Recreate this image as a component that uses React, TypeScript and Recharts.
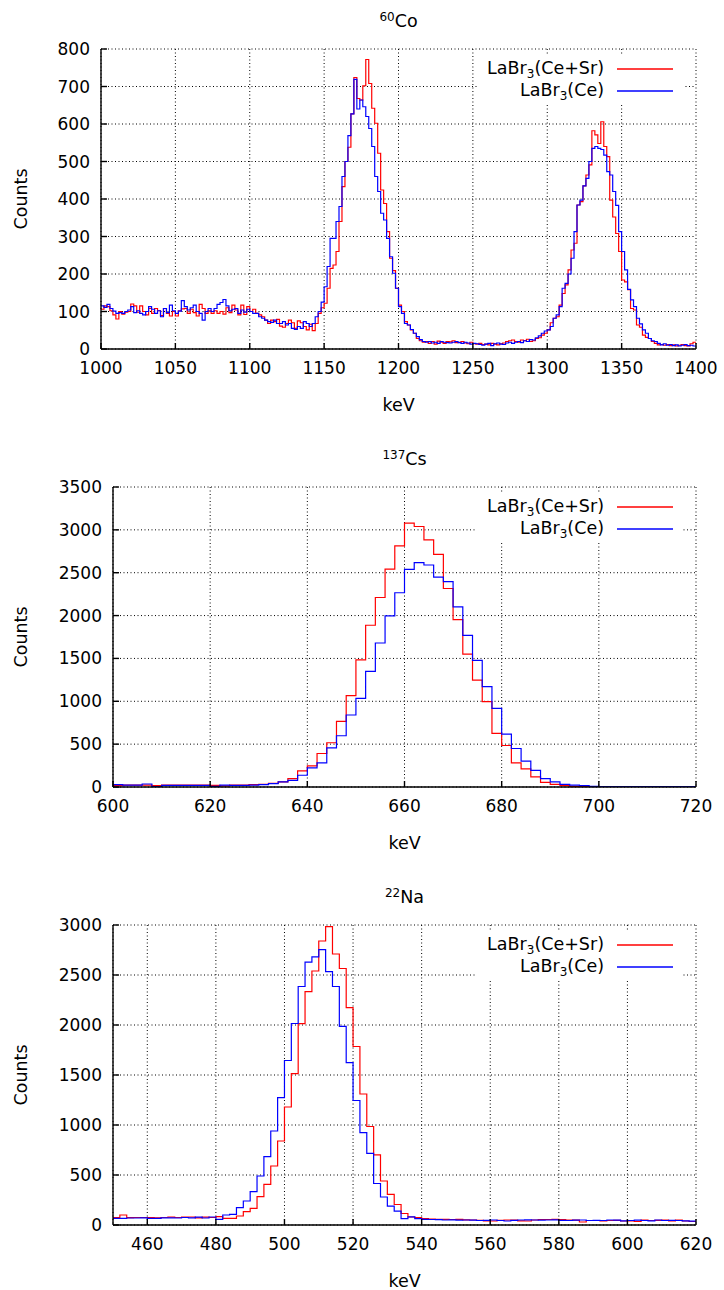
import React from "react";
import { LineChart, Line, XAxis, YAxis, CartesianGrid } from "recharts";

const FONT = "'DejaVu Sans', sans-serif";
const BIN = 2; // keV per bin, all three spectra

// 60Co, bins from 1000 keV
const coStart = 1000;
const coRed = [
  106, 115, 113, 102, 91, 80, 100, 93, 98, 100,
  120, 115, 98, 115, 100, 91, 108, 95, 108, 102,
  89, 108, 95, 88, 100, 88, 102, 107, 108, 95,
  106, 97, 88, 119, 108, 95, 102, 95, 102, 95,
  100, 93, 110, 97, 117, 104, 91, 117, 92, 113,
  100, 106, 95, 91, 86, 77, 68, 77, 73, 79,
  61, 58, 68, 77, 70, 55, 75, 70, 60, 51,
  66, 49, 68, 95, 110, 122, 162, 215, 224, 260,
  340, 433, 500, 538, 627, 724, 668, 664, 702, 772,
  708, 642, 602, 522, 424, 388, 313, 242, 209, 162,
  117, 100, 73, 64, 51, 42, 28, 22, 18, 20,
  15, 20, 13, 21, 18, 15, 20, 19, 22, 17,
  18, 20, 16, 14, 18, 14, 13, 15, 12, 13,
  11, 15, 13, 11, 14, 16, 20, 22, 24, 20,
  18, 24, 22, 26, 20, 22, 28, 30, 37, 42,
  51, 70, 82, 86, 117, 148, 171, 211, 264, 282,
  384, 393, 435, 464, 491, 582, 571, 548, 606, 540,
  513, 397, 352, 308, 260, 184, 179, 158, 108, 104,
  64, 58, 37, 31, 28, 20, 15, 11, 12, 10,
  12, 9, 11, 8, 10, 12, 9, 8, 14, 18,
];
const coBlue = [
  115, 111, 119, 108, 101, 95, 97, 95, 100, 104,
  113, 97, 102, 95, 91, 100, 113, 106, 95, 102,
  86, 108, 97, 117, 102, 95, 101, 129, 113, 104,
  110, 117, 100, 95, 77, 100, 108, 100, 108, 119,
  124, 132, 115, 102, 106, 108, 95, 104, 98, 106,
  100, 95, 95, 86, 82, 77, 73, 71, 77, 68,
  68, 73, 64, 68, 55, 52, 60, 55, 73, 68,
  60, 68, 86, 100, 125, 166, 220, 295, 295, 340,
  380, 460, 500, 569, 627, 719, 640, 664, 646, 620,
  588, 540, 460, 420, 362, 344, 295, 246, 202, 162,
  113, 95, 68, 64, 52, 42, 33, 25, 20, 18,
  20, 16, 18, 15, 20, 18, 17, 16, 18, 20,
  17, 15, 18, 16, 13, 15, 14, 12, 10, 13,
  15, 9, 14, 16, 13, 12, 16, 18, 15, 18,
  20, 17, 22, 20, 25, 24, 30, 35, 42, 48,
  51, 60, 82, 91, 113, 162, 175, 200, 242, 313,
  384, 397, 435, 455, 500, 535, 540, 535, 532, 517,
  473, 464, 420, 383, 313, 260, 211, 159, 131, 113,
  82, 67, 51, 42, 28, 22, 20, 15, 11, 14,
  10, 12, 9, 11, 8, 10, 12, 9, 10, 8,
];
const coXTicks = [1000, 1050, 1100, 1150, 1200, 1250, 1300, 1350, 1400];
const coYTicks = [0, 100, 200, 300, 400, 500, 600, 700, 800];

// 137Cs, bins from 600 keV
const csStart = 600;
const csRed = [
  16, 23, 23, 23, 16, 23, 23, 23, 23, 23,
  20, 12, 23, 23, 27, 31, 43, 59, 98, 188,
  246, 391, 516, 766, 1066, 1484, 1887, 2211, 2543, 2812,
  3078, 3039, 2883, 2715, 2316, 1953, 1551, 1246, 996, 625,
  484, 281, 211, 117, 55, 31, 16, 8, 8, 4,
  4, 4, 4, 4, 4, 4, 4, 4, 4, 4,
];
const csBlue = [
  27, 23, 23, 35, 4, 20, 20, 20, 20, 20,
  8, 23, 20, 20, 23, 27, 39, 59, 78, 137,
  223, 281, 457, 598, 840, 1035, 1348, 1680, 1996, 2266,
  2539, 2617, 2590, 2449, 2395, 2102, 1770, 1477, 1172, 918,
  617, 449, 301, 195, 98, 59, 31, 23, 16, 8,
  4, 4, 4, 4, 4, 4, 4, 4, 4, 4,
];
const csXTicks = [600, 620, 640, 660, 680, 700, 720];
const csYTicks = [0, 500, 1000, 1500, 2000, 2500, 3000, 3500];

// 22Na, bins from 450 keV
const naStart = 450;
const naRed = [
  73, 100, 73, 75, 75, 75, 72, 75, 78, 75,
  78, 80, 72, 78, 75, 83, 67, 67, 90, 133,
  167, 283, 407, 590, 840, 1180, 1513, 2013, 2333, 2540,
  2840, 2983, 2710, 2565, 2173, 1785, 1310, 985, 702, 440,
  307, 205, 115, 80, 73, 63, 60, 57, 57, 55,
  57, 52, 50, 47, 40, 40, 47, 50, 50, 42,
  40, 50, 55, 55, 57, 55, 50, 48, 30, 45,
  45, 40, 45, 47, 40, 42, 35, 50, 45, 47,
  50, 42, 50, 40, 35,
];
const naBlue = [
  67, 67, 70, 70, 72, 67, 67, 72, 72, 70,
  75, 72, 78, 70, 80, 57, 100, 107, 173, 240,
  333, 490, 683, 940, 1273, 1645, 2015, 2385, 2628, 2682,
  2753, 2533, 2385, 1987, 1623, 1245, 923, 717, 415, 280,
  188, 138, 63, 82, 63, 57, 55, 53, 50, 52,
  48, 50, 48, 45, 47, 50, 45, 40, 47, 50,
  52, 50, 48, 50, 52, 47, 45, 48, 50, 45,
  47, 45, 50, 48, 42, 45, 48, 45, 42, 50,
  45, 47, 45, 42, 38,
];
const naXTicks = [460, 480, 500, 520, 540, 560, 580, 600, 620];
const naYTicks = [0, 500, 1000, 1500, 2000, 2500, 3000];

type Row = { e: number; red: number; blue: number };

// one row per bin edge; the closing edge repeats the last bin so the step reaches the axis end
function toRows(start: number, red: number[], blue: number[]): Row[] {
  const rows = red.map((r, i) => ({ e: start + i * BIN, red: r, blue: blue[i] }));
  rows.push({ e: start + red.length * BIN, red: red[red.length - 1], blue: blue[blue.length - 1] });
  return rows;
}

const W = 724;
const H = 438;
const PLOT_TOP = 49;
const PLOT_RIGHT = 696;
const PLOT_BOTTOM = 349;
const XAXIS_H = 40;

const tickStyle = { fill: "#000", fontSize: 17, fontFamily: FONT };
const frame = { stroke: "#000", strokeWidth: 1.4 };

function LegendRow({ label, color, y }: { label: string; color: string; y: number }) {
  return (
    <>
      <div
        style={{
          position: "absolute",
          right: W - 604,
          top: y - 12,
          fontFamily: FONT,
          fontSize: 17.5,
          lineHeight: "22px",
          whiteSpace: "nowrap",
          color: "#000",
        }}
      >
        LaBr<sub style={{ fontSize: 12, verticalAlign: "-4px", lineHeight: 0 }}>3</sub>
        {label}
      </div>
      <svg style={{ position: "absolute", left: 617, top: y - 2 }} width={57} height={4}>
        <line x1={0} y1={2} x2={56} y2={2} stroke={color} strokeWidth={1.3} />
      </svg>
    </>
  );
}

type PanelProps = {
  top: number;
  plotLeft: number;
  mass: string;
  element: string;
  rows: Row[];
  domain: [number, number];
  xTicks: number[];
  yTicks: number[];
};

function Panel({ top, plotLeft, mass, element, rows, domain, xTicks, yTicks }: PanelProps) {
  const cx = (plotLeft + PLOT_RIGHT) / 2;
  const cy = (PLOT_TOP + PLOT_BOTTOM) / 2;
  const yDomain: [number, number] = [0, yTicks[yTicks.length - 1]];
  return (
    <div style={{ position: "absolute", left: 0, top, width: W, height: H }}>
      <LineChart
        width={W}
        height={H}
        data={rows}
        margin={{ top: PLOT_TOP, right: W - PLOT_RIGHT, bottom: H - PLOT_BOTTOM - XAXIS_H, left: 0 }}
      >
        <CartesianGrid stroke="#000" strokeDasharray="1 2.5" />
        <XAxis
          dataKey="e"
          type="number"
          domain={domain}
          ticks={xTicks}
          interval={0}
          height={XAXIS_H}
          tickSize={-6}
          tickMargin={19}
          axisLine={frame}
          tickLine={frame}
          tick={tickStyle}
          allowDataOverflow
        />
        <XAxis
          xAxisId="top"
          orientation="top"
          dataKey="e"
          type="number"
          domain={domain}
          ticks={xTicks}
          interval={0}
          height={0}
          tickSize={-6}
          tick={false}
          axisLine={frame}
          tickLine={frame}
          allowDataOverflow
        />
        <YAxis
          type="number"
          domain={yDomain}
          ticks={yTicks}
          interval={0}
          width={plotLeft}
          tickSize={-6}
          tickMargin={17}
          axisLine={frame}
          tickLine={frame}
          tick={tickStyle}
          allowDataOverflow
        />
        <YAxis
          yAxisId="right"
          orientation="right"
          type="number"
          domain={yDomain}
          ticks={yTicks}
          interval={0}
          width={0}
          tickSize={-6}
          tick={false}
          axisLine={frame}
          tickLine={frame}
          allowDataOverflow
        />
        <Line dataKey="red" type="stepAfter" stroke="#ff0000" strokeWidth={1.2} dot={false} isAnimationActive={false} />
        <Line dataKey="blue" type="stepAfter" stroke="#0000ff" strokeWidth={1.2} dot={false} isAnimationActive={false} />
      </LineChart>

      {/* opaque key box, as gnuplot draws it */}
      <div
        style={{
          position: "absolute",
          left: 477,
          width: 683 - 477,
          top: PLOT_TOP + 7,
          height: 48,
          background: "#fff",
        }}
      />
      <LegendRow label="(Ce+Sr)" color="#ff0000" y={PLOT_TOP + 20} />
      <LegendRow label="(Ce)" color="#0000ff" y={PLOT_TOP + 42} />

      <div
        style={{
          position: "absolute",
          left: cx,
          top: 21,
          transform: "translate(-50%, -50%)",
          fontFamily: FONT,
          fontSize: 17.5,
          whiteSpace: "nowrap",
        }}
      >
        <sup style={{ fontSize: 12, verticalAlign: "6px", lineHeight: 0 }}>{mass}</sup>
        {element}
      </div>
      <div
        style={{
          position: "absolute",
          left: cx,
          top: 405,
          transform: "translate(-50%, -50%)",
          fontFamily: FONT,
          fontSize: 17.5,
        }}
      >
        keV
      </div>
      <div
        style={{
          position: "absolute",
          left: 21,
          top: cy,
          transform: "translate(-50%, -50%) rotate(-90deg)",
          fontFamily: FONT,
          fontSize: 17.5,
        }}
      >
        Counts
      </div>
    </div>
  );
}

export default function App() {
  return (
    <div style={{ position: "absolute", left: 0, top: 0, width: W, height: 1290, background: "#fff" }}>
      <Panel
        top={0}
        plotLeft={101}
        mass="60"
        element="Co"
        rows={toRows(coStart, coRed, coBlue)}
        domain={[1000, 1400]}
        xTicks={coXTicks}
        yTicks={coYTicks}
      />
      <Panel
        top={438}
        plotLeft={113}
        mass="137"
        element="Cs"
        rows={toRows(csStart, csRed, csBlue)}
        domain={[600, 720]}
        xTicks={csXTicks}
        yTicks={csYTicks}
      />
      <Panel
        top={876}
        plotLeft={113}
        mass="22"
        element="Na"
        rows={toRows(naStart, naRed, naBlue)}
        domain={[450, 620]}
        xTicks={naXTicks}
        yTicks={naYTicks}
      />
    </div>
  );
}
